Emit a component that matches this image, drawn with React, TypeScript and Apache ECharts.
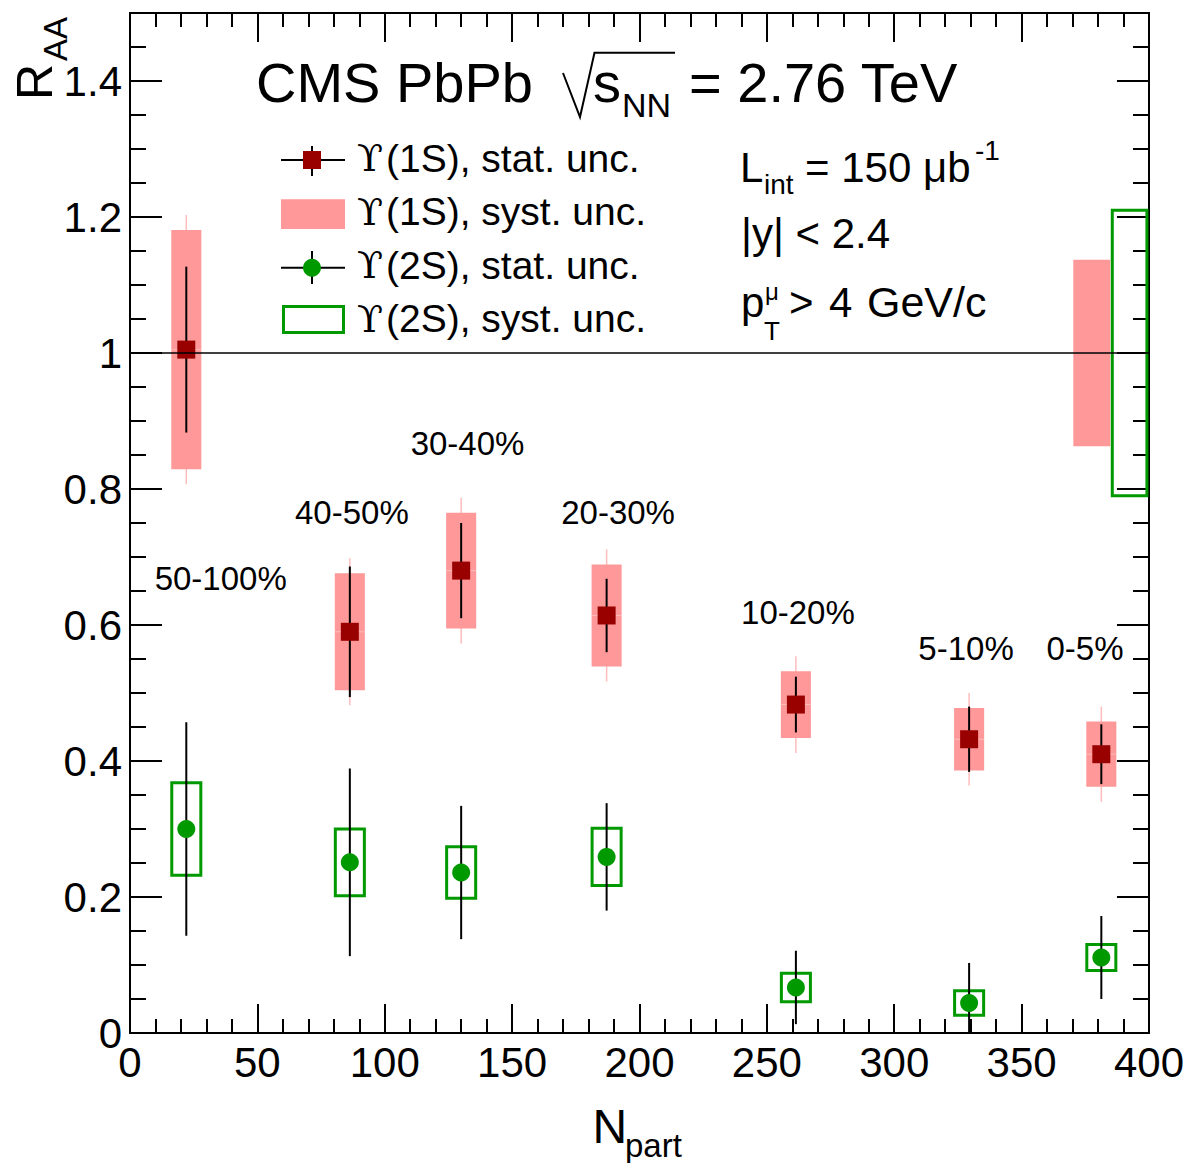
import React, { useEffect, useRef } from "react";
import * as echarts from "echarts";

// ---------- data ----------
const npart = [22.1, 86.3, 130.0, 187.1, 261.4, 329.4, 381.3];
const centrality = ["50-100%", "40-50%", "30-40%", "20-30%", "10-20%", "5-10%", "0-5%"];
const raa1S = [1.005, 0.59, 0.68, 0.614, 0.483, 0.432, 0.41];
const stat1S = [0.122, 0.096, 0.07, 0.054, 0.041, 0.048, 0.044];
const syst1S = [0.176, 0.086, 0.085, 0.075, 0.049, 0.046, 0.048];
const raa2S = [0.3, 0.251, 0.236, 0.259, 0.067, 0.044, 0.111];
const stat2S = [0.157, 0.138, 0.098, 0.079, 0.054, 0.059, 0.061];
const syst2S = [0.068, 0.049, 0.038, 0.042, 0.021, 0.018, 0.019];
const global1S = 0.137;
const global1SRange = [370.3, 384.8];
const global2S = 0.21;
const global2SRange = [385.6, 399.2];
const labelX = [35.6, 87.1, 132.5, 191.6, 262.2, 328.2, 374.9];
const labelY = [0.669, 0.765, 0.867, 0.765, 0.618, 0.566, 0.566];
const xRange = [0, 400];
const yRange = [0, 1.5];
const xMajor = 50;
const yMajor = 0.2;
const yMinor = 0.05;

// ---------- styles ----------
const FONT = '"Liberation Sans", Arial, Helvetica, sans-serif';
const SERIF = '"DejaVu Serif", "Liberation Serif", serif';
const PINK = "#ff9999";
const FAINT = "#ffbcbc";
const DARKRED = "#990000";
const GREEN = "#009900";
const BOX1 = 5.9;
const BOX2 = 5.7;

function txt(text: string, x: number, baseline: number, size: number, family: string = FONT) {
  return {
    type: "text",
    silent: true,
    z: 10,
    style: {
      text,
      x,
      y: baseline - 0.35 * size,
      fill: "#000",
      textFill: "#000",
      fontSize: size,
      fontFamily: family,
      align: "left",
      verticalAlign: "middle",
      textAlign: "left",
      textVerticalAlign: "middle",
    },
  };
}

function ln(x1: number, y1: number, x2: number, y2: number, w = 2) {
  return { type: "line", silent: true, z: 10, shape: { x1, y1, x2, y2 }, style: { stroke: "#000", lineWidth: w } };
}

const axisLineStyle = { show: true, onZero: false, lineStyle: { color: "#000", width: 2 } };

function xAxisDef(pos: string, labels: boolean) {
  return {
    type: "value",
    position: pos,
    min: xRange[0],
    max: xRange[1],
    interval: xMajor,
    axisLine: axisLineStyle,
    axisTick: { show: true, inside: true, length: 29, lineStyle: { color: "#000", width: 2 } },
    minorTick: { show: true, splitNumber: 5, length: 14, lineStyle: { color: "#000", width: 2 } },
    splitLine: { show: false },
    minorSplitLine: { show: false },
    axisLabel: labels
      ? { show: true, fontSize: 42, color: "#000", fontFamily: FONT, margin: 8, showMinLabel: true, showMaxLabel: true }
      : { show: false },
  };
}

function yAxisDef(pos: string, step: number, len: number, labels: boolean) {
  return {
    type: "value",
    position: pos,
    min: yRange[0],
    max: yRange[1],
    interval: step,
    axisLine: axisLineStyle,
    axisTick: { show: true, inside: true, length: len, lineStyle: { color: "#000", width: 2 } },
    splitLine: { show: false },
    axisLabel: labels
      ? { show: true, fontSize: 42, color: "#000", fontFamily: FONT, margin: 8, showMinLabel: true, showMaxLabel: false }
      : { show: false },
  };
}

function vLineSeries(name: string, data: number[][], color: string, width: number) {
  return {
    type: "custom",
    name,
    clip: true,
    silent: true,
    data,
    renderItem: (_p: any, api: any) => {
      const x = api.value(0);
      const a = api.coord([x, api.value(1)]);
      const b = api.coord([x, api.value(2)]);
      return { type: "line", shape: { x1: a[0], y1: a[1], x2: b[0], y2: b[1] }, style: { stroke: color, lineWidth: width } };
    },
  };
}

export default function App() {
  const ref = useRef<HTMLDivElement>(null);
  useEffect(() => {
    const chart = echarts.init(ref.current as HTMLDivElement, null, { renderer: "svg" });

    const systData1S = npart.map((x, i) => [x, raa1S[i] - syst1S[i], raa1S[i] + syst1S[i], raa1S[i]]);
    const statData1S = npart.map((x, i) => [x, raa1S[i] - stat1S[i], raa1S[i] + stat1S[i]]);
    const systData2S = npart.map((x, i) => [x, raa2S[i] - syst2S[i], raa2S[i] + syst2S[i], raa2S[i]]);
    const statData2S = npart.map((x, i) => [x, raa2S[i] - stat2S[i], raa2S[i] + stat2S[i]]);

    const option: any = {
      animation: false,
      backgroundColor: "#fff",
      grid: { left: 130, right: 38, top: 13, bottom: 130, containLabel: false },
      xAxis: [xAxisDef("bottom", true), xAxisDef("top", false)],
      yAxis: [
        yAxisDef("left", yMajor, 32, true),
        yAxisDef("left", yMinor, 16, false),
        yAxisDef("right", yMajor, 32, false),
        yAxisDef("right", yMinor, 16, false),
      ],
      series: [
        // global uncertainty boxes
        {
          type: "custom",
          name: "global",
          silent: true,
          clip: true,
          data: [
            [global1SRange[0], global1SRange[1], 1 - global1S, 1 + global1S, 0],
            [global2SRange[0], global2SRange[1], 1 - global2S, 1 + global2S, 1],
          ],
          renderItem: (_p: any, api: any) => {
            const a = api.coord([api.value(0), api.value(3)]);
            const b = api.coord([api.value(1), api.value(2)]);
            const is2S = api.value(4) === 1;
            return {
              type: "rect",
              shape: { x: a[0], y: a[1], width: b[0] - a[0], height: b[1] - a[1] },
              style: is2S ? { fill: "none", stroke: GREEN, lineWidth: 3 } : { fill: PINK },
            };
          },
        },
        // 1S systematic boxes
        {
          type: "custom",
          name: "1S syst",
          silent: true,
          clip: true,
          data: systData1S,
          renderItem: (_p: any, api: any) => {
            const x = api.value(0);
            const lo = api.coord([x, api.value(1)]);
            const hi = api.coord([x, api.value(2)]);
            const l = api.coord([x - BOX1, api.value(2)]);
            const r = api.coord([x + BOX1, api.value(1)]);
            const c = api.coord([x, api.value(3)]);
            return {
              type: "group",
              children: [
                { type: "line", shape: { x1: hi[0], y1: hi[1] - 15, x2: lo[0], y2: lo[1] + 15 }, style: { stroke: FAINT, lineWidth: 1.5 } },
                { type: "rect", shape: { x: l[0], y: l[1], width: r[0] - l[0], height: r[1] - l[1] }, style: { fill: PINK } },
                { type: "line", shape: { x1: l[0], y1: c[1], x2: r[0], y2: c[1] }, style: { stroke: FAINT, lineWidth: 1 } },
              ],
            };
          },
        },
        vLineSeries("1S stat", statData1S, "#000", 2),
        {
          type: "scatter",
          name: "1S",
          silent: true,
          symbol: "rect",
          symbolSize: 18,
          itemStyle: { color: DARKRED, opacity: 1 },
          data: npart.map((x, i) => [x, raa1S[i]]),
        },
        // 2S systematic boxes
        {
          type: "custom",
          name: "2S syst",
          silent: true,
          clip: true,
          data: systData2S,
          renderItem: (_p: any, api: any) => {
            const x = api.value(0);
            const l = api.coord([x - BOX2, api.value(2)]);
            const r = api.coord([x + BOX2, api.value(1)]);
            return {
              type: "rect",
              shape: { x: l[0], y: l[1], width: r[0] - l[0], height: r[1] - l[1] },
              style: { fill: "none", stroke: GREEN, lineWidth: 3 },
            };
          },
        },
        vLineSeries("2S stat", statData2S, "#000", 2),
        {
          type: "scatter",
          name: "2S",
          silent: true,
          symbol: "circle",
          symbolSize: 18,
          itemStyle: { color: GREEN, opacity: 1 },
          data: npart.map((x, i) => [x, raa2S[i]]),
        },
        // unity line
        {
          type: "line",
          name: "unity",
          silent: true,
          symbol: "none",
          lineStyle: { color: "#000", width: 1.5 },
          data: [
            [xRange[0], 1],
            [xRange[1], 1],
          ],
        },
        // centrality labels
        {
          type: "scatter",
          name: "centrality",
          silent: true,
          symbolSize: 1,
          itemStyle: { color: "rgba(0,0,0,0)", opacity: 1 },
          label: {
            show: true,
            position: "inside",
            formatter: "{b}",
            fontSize: 33,
            color: "#000",
            opacity: 1,
            fontFamily: FONT,
          },
          data: centrality.map((n, i) => ({ name: n, value: [labelX[i], labelY[i]] })),
        },
      ],
      graphic: [
        // title
        txt("CMS PbPb", 256, 101.7, 56),
        {
          type: "polyline",
          silent: true,
          z: 10,
          shape: { points: [[563, 73], [580, 117], [594.5, 52.7], [675, 52.7]] },
          style: { stroke: "#000", lineWidth: 2, fill: "none" },
        },
        txt("s", 593, 101.7, 56),
        txt("NN", 622, 117, 34),
        txt("= 2.76 TeV", 689, 101.7, 56),
        // legend icons
        ln(281, 160, 345, 160),
        ln(312, 146, 312, 176),
        { type: "rect", silent: true, z: 10, shape: { x: 303, y: 151, width: 18, height: 18 }, style: { fill: DARKRED } },
        { type: "rect", silent: true, z: 10, shape: { x: 281, y: 199.3, width: 64, height: 29.7 }, style: { fill: PINK } },
        ln(281, 267.7, 345, 267.7),
        ln(312, 251, 312, 284),
        { type: "circle", silent: true, z: 10, shape: { cx: 312, cy: 267.7, r: 9 }, style: { fill: GREEN } },
        { type: "rect", silent: true, z: 10, shape: { x: 283.5, y: 306.5, width: 60, height: 26 }, style: { fill: "none", stroke: GREEN, lineWidth: 3 } },
        // legend texts
        txt("ϒ", 357, 171.7, 38, SERIF),
        txt("(1S), stat. unc.", 386, 171.7, 39),
        txt("ϒ", 357, 225.2, 38, SERIF),
        txt("(1S), syst. unc.", 386, 225.2, 39),
        txt("ϒ", 357, 278.7, 38, SERIF),
        txt("(2S), stat. unc.", 386, 278.7, 39),
        txt("ϒ", 357, 332.2, 38, SERIF),
        txt("(2S), syst. unc.", 386, 332.2, 39),
        // right text block
        txt("L", 740, 181.7, 42),
        txt("int", 764, 194, 28),
        txt("= 150 μb", 805, 181.7, 42),
        txt("-1", 975, 160, 28),
        txt("|y| < 2.4", 741, 248, 42),
        txt("p", 741, 316.7, 42),
        txt("μ", 765, 300, 24),
        txt("T", 764, 340, 26),
        txt(">", 789, 316.7, 42),
        txt("4", 829, 316.7, 42),
        txt("GeV/c", 867, 316.7, 43),
        // axis titles
        txt("N", 592.5, 1143, 48),
        txt("part", 625, 1157, 33),
        {
          type: "group",
          x: 52,
          y: 100,
          rotation: Math.PI / 2,
          silent: true,
          z: 10,
          children: [
            {
              type: "text",
              style: { text: "R", x: 0, y: -0.35 * 50, fill: "#000", fontSize: 50, fontFamily: FONT, align: "left", verticalAlign: "middle", textAlign: "left", textVerticalAlign: "middle" },
            },
            {
              type: "text",
              style: { text: "AA", x: 39, y: 15 - 0.35 * 33, fill: "#000", fontSize: 33, fontFamily: FONT, align: "left", verticalAlign: "middle", textAlign: "left", textVerticalAlign: "middle" },
            },
          ],
        },
      ],
    };

    chart.setOption(option);
    return () => chart.dispose();
  }, []);

  return (
    <div
      ref={ref}
      style={{ position: "fixed", left: 0, top: 0, width: 1187, height: 1163, background: "#fff" }}
    />
  );
}
